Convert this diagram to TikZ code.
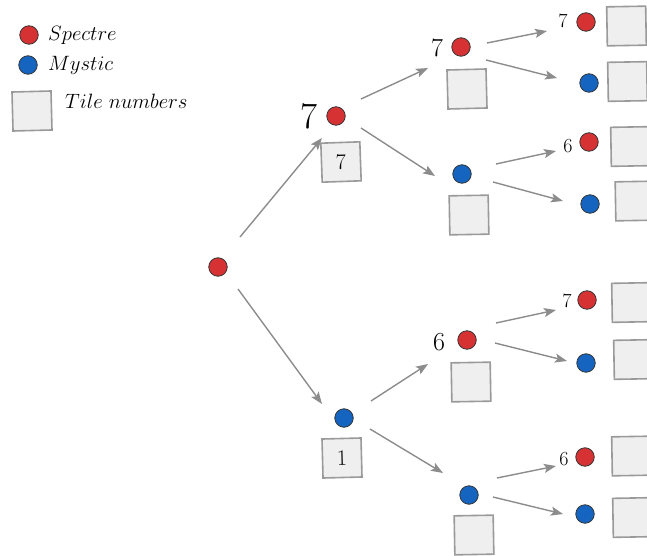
\documentclass[tikz,border=0pt]{standalone}
\usetikzlibrary{arrows.meta,calc}
\definecolor{spectrered}{HTML}{D63233}
\definecolor{mysticblue}{HTML}{1565C0}
\definecolor{tilefill}{HTML}{EFEFEF}
\definecolor{tileedge}{HTML}{9A9A9A}
\definecolor{arrowgray}{HTML}{8C8C8C}
\tikzset{
  dot/.style={circle, minimum size=18.5pt, inner sep=0pt, draw=black!80, line width=0.8pt},
  spectre/.style={dot, fill=spectrered},
  mystic/.style={dot, fill=mysticblue},
  tile/.style={rectangle, minimum size=39pt, inner sep=0pt, fill=tilefill, draw=tileedge, line width=1.6pt,
    font=\fontsize{22}{26}\selectfont},
  lbig/.style={font=\fontsize{37}{40}\selectfont, inner sep=0pt},
  lmid/.style={font=\fontsize{26}{30}\selectfont, inner sep=0pt},
  lsmall/.style={font=\fontsize{20}{24}\selectfont, inner sep=0pt},
  legend/.style={font=\fontsize{20}{24}\selectfont, inner sep=0pt, anchor=west},
  branch/.style={draw=arrowgray, line width=1.4pt, -{Stealth[length=12pt,width=9pt,inset=2.5pt]}},
}
\begin{document}
\begin{tikzpicture}[x=1pt, y=-1pt]
\useasboundingbox (0,0) rectangle (647,556);
\clip (0,0) rectangle (647,556);

% legend
\node[spectre] (legS) at (29,35) {};
\node[legend] (legStxt) at (48,35) {$Spectre$};
\node[mystic] (legM) at (28,65) {};
\node[legend] (legMtxt) at (48,65) {$Mystic$};
\node[tile, rotate=1.5] (legT) at (32,111) {};
\node[legend] (legTtxt) at (65,101) {$Tile\ numbers$};

% root
\node[spectre] (r) at (218,267) {};

% first generation
\node[spectre] (A) at (336,116) {};
\node[lbig] (Al) at (309,116) {7};
\node[tile, rotate=2] (At) at (341,162) {7};
\node[mystic] (B) at (344,418) {};
\node[tile, rotate=1.5] (Bt) at (342,458) {1};

% second generation
\node[spectre] (Aa) at (461,47) {};
\node[lmid] (Aal) at (437,48) {7};
\node[tile, rotate=1.5] (Aat) at (467,89) {};
\node[mystic] (Ab) at (462,174) {};
\node[tile, rotate=1] (Abt) at (469,215) {};
\node[spectre] (Ba) at (467,340) {};
\node[lmid] (Bal) at (439,342) {6};
\node[tile, rotate=1] (Bat) at (471,382) {};
\node[mystic] (Bb) at (469,495) {};
\node[tile, rotate=1] (Bbt) at (474,535) {};

% third generation
\node[spectre] (Aaa) at (586,22) {};
\node[lsmall] (Aaal) at (563,21) {7};
\node[tile, rotate=1] (Aaat) at (626.5,26) {};
\node[mystic] (Aab) at (589,83) {};
\node[tile, rotate=1] (Aabt) at (627.5,81.5) {};
\node[spectre] (Aba) at (589,142) {};
\node[lsmall] (Abal) at (568,146) {6};
\node[tile, rotate=1] (Abat) at (630.5,146.5) {};
\node[mystic] (Abb) at (590,204) {};
\node[tile, rotate=1] (Abbt) at (635,201) {};
\node[spectre] (Baa) at (587,300) {};
\node[lsmall] (Baal) at (567,301) {7};
\node[tile, rotate=1] (Baat) at (631.5,302.5) {};
\node[mystic] (Bab) at (586,363) {};
\node[tile, rotate=1] (Babt) at (633.5,359.5) {};
\node[spectre] (Bba) at (585,457) {};
\node[lsmall] (Bbal) at (564,459) {6};
\node[tile, rotate=1] (Bbat) at (631.5,456) {};
\node[mystic] (Bbb) at (585,514) {};
\node[tile, rotate=1] (Bbbt) at (632.5,517.5) {};

% branches
\draw[branch] ($(r)+(22,-30)$) -- ($(A)+(-14,22)$);
\draw[branch] ($(r)+(20,22)$) -- ($(B)+(-22,-14)$);
\draw[branch] ($(A)+(25,-17)$) -- ($(Aa)+(-33,21)$);
\draw[branch] ($(A)+(25,12)$) -- ($(Ab)+(-27,2)$);
\draw[branch] ($(B)+(27,-17)$) -- ($(Ba)+(-39,24)$);
\draw[branch] ($(B)+(26,11)$) -- ($(Bb)+(-26,-22)$);
\draw[branch] ($(Aa)+(26,-4)$) -- ($(Aaa)+(-39,9)$);
\draw[branch] ($(Aa)+(25,13)$) -- ($(Aab)+(-32,-5)$);
\draw[branch] ($(Ab)+(34,-10)$) -- ($(Aba)+(-33,9)$);
\draw[branch] ($(Ab)+(31,8)$) -- ($(Abb)+(-27,-3)$);
\draw[branch] ($(Ba)+(29,-17)$) -- ($(Baa)+(-31,10)$);
\draw[branch] ($(Ba)+(28,3)$) -- ($(Bab)+(-19,-2)$);
\draw[branch] ($(Bb)+(28,-17)$) -- ($(Bba)+(-29,9)$);
\draw[branch] ($(Bb)+(24,2)$) -- ($(Bbb)+(-22,0)$);
\end{tikzpicture}
\end{document}
